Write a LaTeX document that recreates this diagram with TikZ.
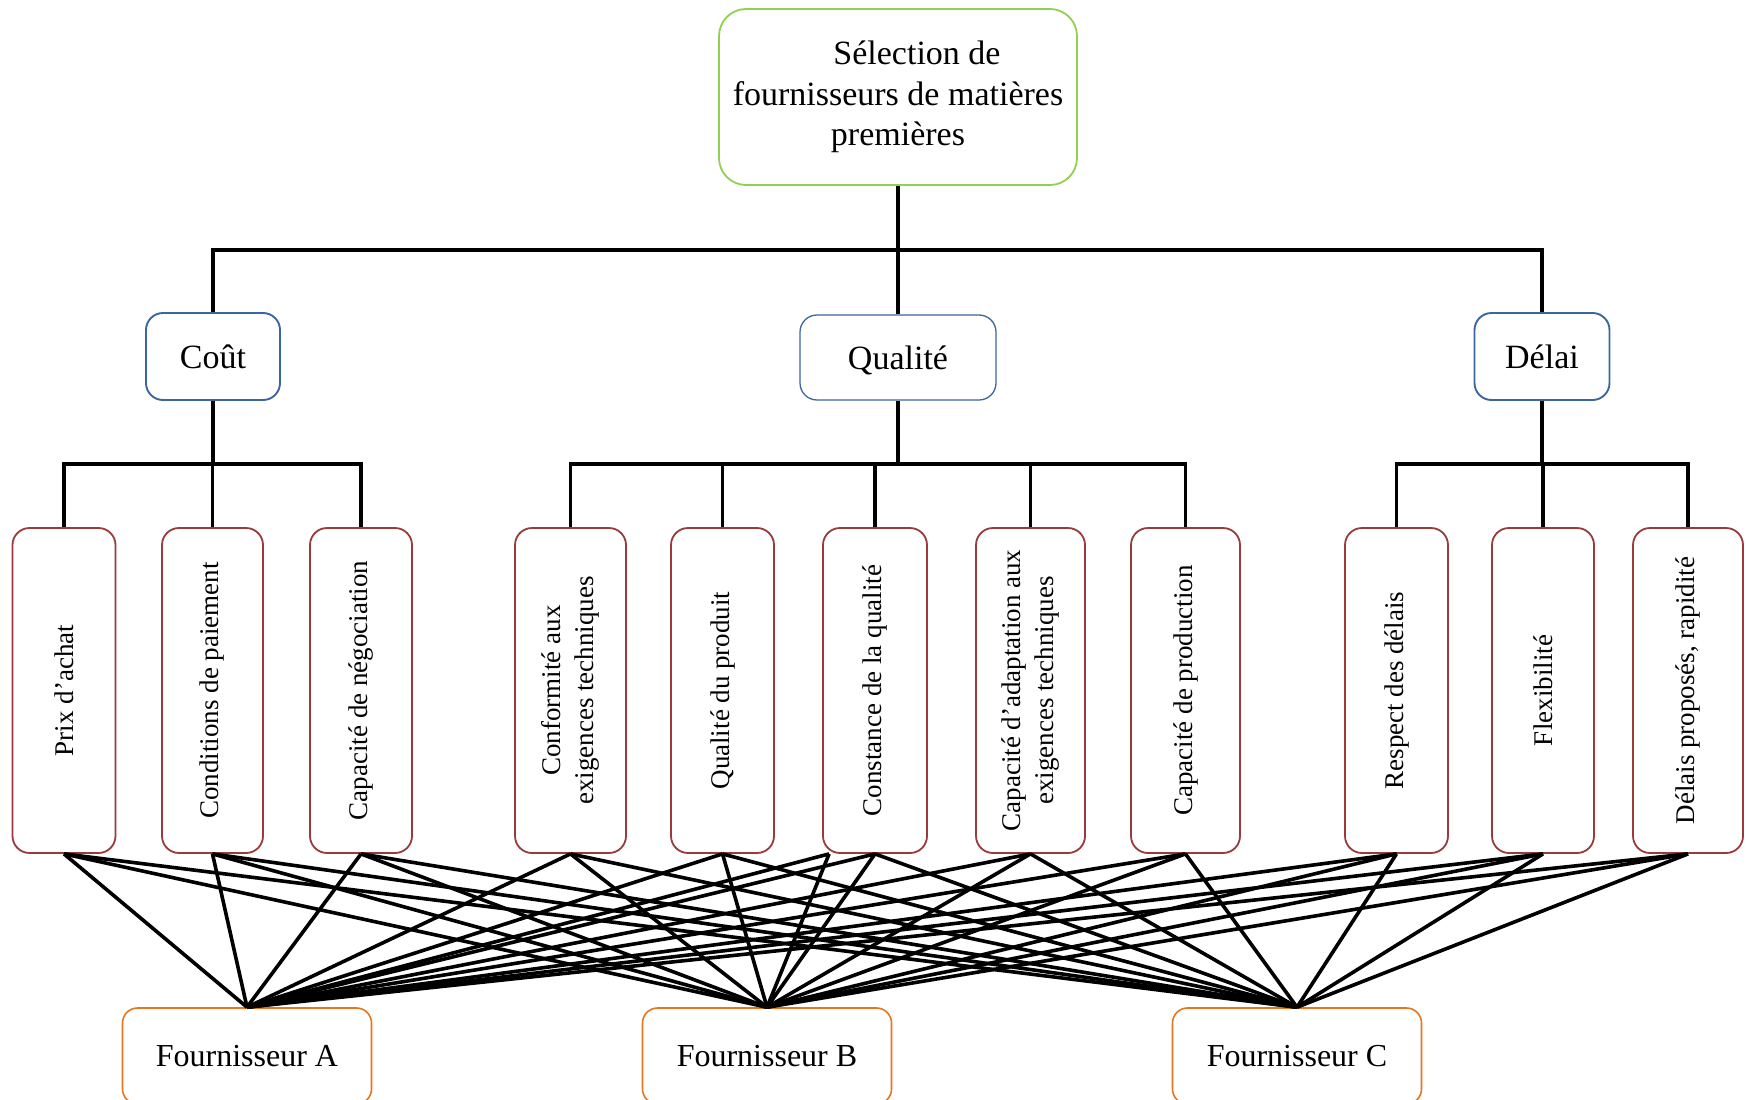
\documentclass[tikz,border=0pt]{standalone}
\usepackage{fontspec}
\setmainfont{Liberation Serif}
\usetikzlibrary{calc}
\definecolor{topgreen}{RGB}{146,208,80}
\definecolor{catblue}{RGB}{60,102,162}
\definecolor{critred}{RGB}{155,58,58}
\definecolor{suporange}{RGB}{232,118,30}
\newcommand{\bigfont}{\fontsize{34}{40.7}\selectfont}
\newcommand{\supfont}{\fontsize{32}{38}\selectfont}
\newcommand{\critfont}{\fontsize{27}{32.4}\selectfont}

\begin{document}
\begin{tikzpicture}[x=1pt,y=-1pt,
  topbox/.style={draw=topgreen, line width=1.8pt, rounded corners=27pt, fill=white,
    minimum width=358pt, minimum height=176pt, inner sep=0pt, align=center, font=\bigfont},
  catbox/.style={draw=catblue, line width=1.9pt, rounded corners=17pt, fill=white,
    minimum height=87pt, inner sep=0pt, font=\bigfont},
  critbox/.style={draw=critred, line width=1.8pt, rounded corners=17pt, fill=white,
    minimum height=325pt, inner sep=0pt},
  crittext/.style={rotate=90, align=center, font=\critfont, inner sep=0pt},
  supbox/.style={draw=suporange, line width=1.6pt, rounded corners=15pt, fill=white,
    minimum width=249pt, minimum height=96pt, inner sep=0pt, font=\supfont},
  tree/.style={line width=3.8pt},
  link/.style={line width=3.6pt}]

\useasboundingbox (0,0) rectangle (1749,1100);

% root
\node[topbox] (top) at (898,97)
  {\hspace*{38pt}Sélection de\\fournisseurs de matières\\premières};

% criteria families
\node[catbox, minimum width=134pt] (cout) at (213,356.5) {Coût};
\node[catbox, minimum width=196pt, minimum height=85pt, line width=1.3pt] (qual) at (898,357.5) {};
\node[font=\bigfont, inner sep=0pt] (qualt) at ($(qual.center)+(0,3)$) {Qualité};
\node[catbox, minimum width=135pt] (delai) at (1542,356.5) {Délai};

% sub-criteria boxes
\node[critbox, minimum width=103pt] (c1)  at (64,690.5)   {};
\node[critbox, minimum width=101pt] (c2)  at (212.5,690.5) {};
\node[critbox, minimum width=102pt] (c3)  at (361,690.5)  {};
\node[critbox, minimum width=111pt] (c4)  at (570.5,690.5) {};
\node[critbox, minimum width=103pt] (c5)  at (722.5,690.5) {};
\node[critbox, minimum width=104pt] (c6)  at (875,690.5)  {};
\node[critbox, minimum width=109pt] (c7)  at (1030.5,690.5) {};
\node[critbox, minimum width=109pt] (c8)  at (1185.5,690.5) {};
\node[critbox, minimum width=103pt] (c9)  at (1396.5,690.5) {};
\node[critbox, minimum width=102pt] (c10) at (1543,690.5) {};
\node[critbox, minimum width=110pt] (c11) at (1688,690.5) {};

\node[crittext] (t1)  at (c1)  {Prix d’achat};
\node[crittext] (t2)  at (c2)  {Conditions de paiement};
\node[crittext] (t3)  at (c3)  {Capacité de négociation};
\node[crittext] (t4)  at (c4)  {Conformité aux\\exigences techniques};
\node[crittext] (t5)  at (c5)  {Qualité du produit};
\node[crittext] (t6)  at (c6)  {Constance de la qualité};
\node[crittext] (t7)  at (c7)  {Capacité d’adaptation aux\\exigences techniques};
\node[crittext] (t8)  at (c8)  {Capacité de production};
\node[crittext] (t9)  at (c9)  {Respect des délais};
\node[crittext] (t10) at (c10) {Flexibilité};
\node[crittext] (t11) at (c11) {Délais proposés, rapidité};

% suppliers
\node[supbox] (sa) at (247,1056) {Fournisseur A};
\node[supbox] (sb) at (767,1056) {Fournisseur B};
\node[supbox] (sc) at (1297,1056) {Fournisseur C};

% hierarchy connectors
\coordinate (h0) at (898,250);
\coordinate (h1) at (0,464);
\draw[tree] (top.south) -- (qual.north);
\draw[tree] (cout.north) -- (cout.north |- h0) -- (delai.north |- h0) -- (delai.north);

\draw[tree] (c1.north) -- (c1.north |- h1) -- (c3.north |- h1) -- (c3.north);
\draw[tree] (cout.south) -- (cout.south |- h1);
\draw[tree] (c2.north) -- (c2.north |- h1);

\draw[tree] (c4.north) -- (c4.north |- h1) -- (c8.north |- h1) -- (c8.north);
\draw[tree] (qual.south) -- (qual.south |- h1);
\foreach \c in {c5,c6,c7} \draw[tree] (\c.north) -- (\c.north |- h1);

\draw[tree] (c9.north) -- (c9.north |- h1) -- (c11.north |- h1) -- (c11.north);
\draw[tree] (delai.south) -- (delai.south |- h1);
\draw[tree] (c10.north) -- (c10.north |- h1);

% every sub-criterion linked to every supplier
\coordinate (c6l) at ($(c6.south west)+(7,0)$);
\foreach \c in {c1,c2,c3,c4,c5,c6,c7,c8,c9,c10,c11}
  \foreach \s in {sa,sb,sc}
    \draw[link] (\c.south) -- (\s.north);
\draw[link] (c6l) -- (sa.north);
\draw[link] (c6l) -- (sb.north);
\end{tikzpicture}
\end{document}
